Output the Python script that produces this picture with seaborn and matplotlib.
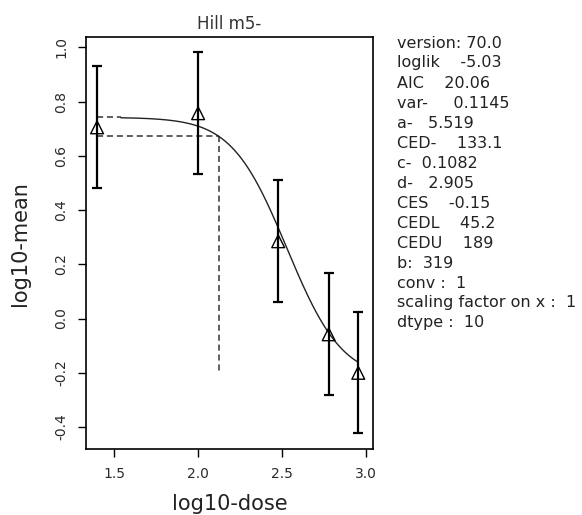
import numpy as np
import pandas as pd
import matplotlib
matplotlib.use("Agg")
import matplotlib.pyplot as plt
import seaborn as sns

# Observed group data (dose, log10 of the group mean, half-width of its interval)
doses = [25, 100, 300, 600, 900]
log_means = [0.705, 0.757, 0.285, -0.058, -0.200]
ci_half = [0.225, 0.225, 0.225, 0.225, 0.223]

# Fitted Hill model (m5-) parameters and critical effect
a_par = 5.519
c_par = 0.1082
d_par = 2.905
ced = 133.1
ces = -0.15

x_ticks = [1.5, 2.0, 2.5, 3.0]
y_ticks = [-0.4, -0.2, 0.0, 0.2, 0.4, 0.6, 0.8, 1.0]

info_lines = [
    "version: 70.0",
    "loglik    -5.03",
    "AIC    20.06",
    "var-     0.1145",
    "a-   5.519",
    "CED-    133.1",
    "c-  0.1082",
    "d-   2.905",
    "CES    -0.15",
    "CEDL    45.2",
    "CEDU    189",
    "b:  319",
    "conv :  1",
    "scaling factor on x :  1",
    "dtype :  10",
]

# Hill model expressed through CED / CES
b_par = ced * ((c_par - 1) / ces - 1) ** (1 / d_par)


def hill(x):
    return a_par * (1 + (c_par - 1) * x ** d_par / (b_par ** d_par + x ** d_par))


dose_grid = np.geomspace(max(doses) / 26, max(doses), 300)
curve = pd.DataFrame({"log_dose": np.log10(dose_grid),
                      "log_resp": np.log10(hill(dose_grid))})
obs = pd.DataFrame({"log_dose": np.log10(doses), "log_mean": log_means,
                    "half": ci_half})

sns.set_theme(style="white")
plt.rcParams["font.family"] = ["DejaVu Sans"]

W, H = 582, 515
fig = plt.figure(figsize=(W / 100, H / 100), dpi=100)
left, right, top, bottom = 86, 373, 37, 449.3
ax = fig.add_axes([left / W, 1 - bottom / H, (right - left) / W, (bottom - top) / H])

# reference levels: background response and CES response, CED drop line
bg_level = np.log10(a_par)
ces_level = np.log10(a_par * (1 + ces))
x0 = obs["log_dose"].min()
dash_kw = dict(color="#333333", lw=1.1, dashes=(4, 2.5))
ax.plot([x0, curve["log_dose"].iloc[0]], [bg_level, bg_level], **dash_kw)
ax.plot([x0, np.log10(ced)], [ces_level, ces_level], **dash_kw)
ax.plot([np.log10(ced), np.log10(ced)], [ces_level, obs["log_mean"].min()], **dash_kw)

sns.lineplot(data=curve, x="log_dose", y="log_resp", ax=ax, color="#222222",
             lw=1.0, sort=False)

ax.errorbar(obs["log_dose"], obs["log_mean"], yerr=obs["half"], fmt="none",
            ecolor="black", elinewidth=1.6, capsize=3.4, capthick=1.6, zorder=3)
sns.scatterplot(data=obs, x="log_dose", y="log_mean", ax=ax, marker="^", s=85,
                facecolor="none", edgecolor="black", linewidth=1.0, zorder=4)

ax.set_xlim(1.332, 3.042)
ax.set_ylim(-0.482, 1.038)
ax.set_xticks(x_ticks)
ax.set_xticklabels([f"{v:.1f}" for v in x_ticks])
ax.set_yticks(y_ticks)
ax.set_yticklabels([f"{v:.1f}" for v in y_ticks], rotation=90, va="center")
ax.tick_params(axis="both", direction="out", length=6, width=1.0, color="black",
               left=True, bottom=True, labelsize=10, labelcolor="#2a2a2a")
ax.tick_params(axis="x", pad=7)
ax.tick_params(axis="y", pad=7)
for sp in ax.spines.values():
    sp.set_color("black")
    sp.set_linewidth(1.2)

ax.set_xlabel("log10-dose", fontsize=15, color="#222222")
ax.set_ylabel("log10-mean", fontsize=15, color="#222222")
ax.xaxis.set_label_coords(0.5, (bottom - 494) / (bottom - top))
ax.yaxis.set_label_coords((30 - left) / (right - left), 0.5)
ax.set_title("Hill m5-", fontsize=12, color="#333333", pad=6)

for i, line in enumerate(info_lines):
    fig.text(397 / W, 1 - (47.5 + 20 * i) / H, line, fontsize=11.5,
             color="#222222", ha="left", va="baseline")

fig.savefig("out.png", dpi=100)
